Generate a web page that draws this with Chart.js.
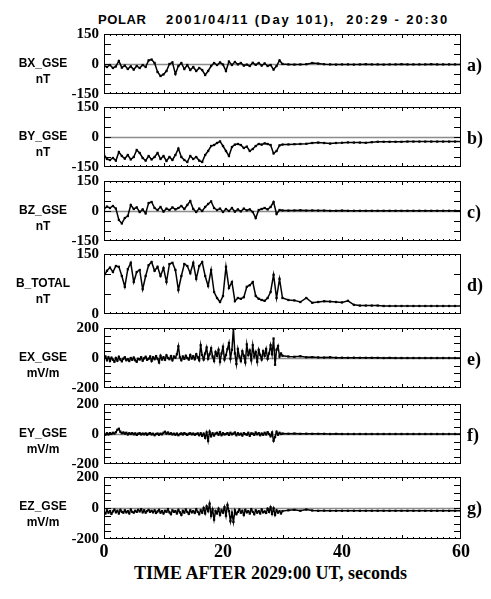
<!DOCTYPE html>
<html>
<head>
<meta charset="utf-8">
<script src="https://cdn.jsdelivr.net/npm/chart.js@4.4.1/dist/chart.umd.min.js"></script>
<style>
body { margin: 0; background: #fff; width: 491px; height: 599px; position: relative; overflow: hidden; }
canvas { position: absolute; left: 0; }
.hdr { position: absolute; top: 13px; font: bold 13px "Liberation Sans", sans-serif; line-height: 14px; white-space: pre; color: #000; }
.lbl { position: absolute; left: 0; width: 86px; text-align: center; font: bold 12px "Liberation Sans", sans-serif; line-height: 14px; color: #000; }
.tag { position: absolute; left: 467px; font: bold 18px "Liberation Serif", serif; line-height: 18px; color: #000; }
.xtitle { position: absolute; left: 0; width: 541px; top: 563px; text-align: center; font: bold 18px "Liberation Serif", serif; line-height: 20px; color: #000; }
</style>
</head>
<body>
<div class="hdr" style="left:98px;letter-spacing:0.6px">POLAR</div>
<div class="hdr" style="left:166px;letter-spacing:1.9px">2001/04/11 (Day 101),  20:29 - 20:30</div>
<div class="xtitle">TIME AFTER 2029:00 UT, seconds</div>
<script>
// sample times, seconds after 20:29:00
const timeB = [0,0.5,1,1.5,2,2.5,3,3.5,4,4.5,5,5.5,6,6.5,7,7.5,8,8.5,9,9.5,
  10,10.5,11,11.5,12,12.5,13,13.5,14,14.5,15,15.5,16,16.5,17,17.5,18,18.5,19,19.5,
  20,20.5,21,21.5,22,22.5,23,23.5,24,24.5,25,25.5,26,26.5,27,27.5,28,28.5,29,29.5,30,
  31,32,33,34,35,36,37,38,39,40,41,42,43,44,45,46,47,48,49,50,51,52,53,54,55,56,57,58,59,60];

const timeE = [0,0.25,0.5,0.75,1,1.25,1.5,1.75,2,2.25,2.5,2.75,3,3.25,3.5,3.75,4,4.25,4.5,4.75,
  5,5.25,5.5,5.75,6,6.25,6.5,6.75,7,7.25,7.5,7.75,8,8.25,8.5,8.75,9,9.25,9.5,9.75,
  10,10.25,10.5,10.75,11,11.25,11.5,11.75,12,12.25,12.5,12.75,13,13.25,13.5,13.75,14,14.25,14.5,14.75,
  15,15.25,15.5,15.75,16,16.25,16.5,16.75,17,17.25,17.5,17.75,18,18.25,18.5,18.75,19,19.25,19.5,19.75,
  20,20.25,20.5,20.75,21,21.25,21.5,21.75,22,22.25,22.5,22.75,23,23.25,23.5,23.75,24,24.25,24.5,24.75,
  25,25.25,25.5,25.75,26,26.25,26.5,26.75,27,27.25,27.5,27.75,28,28.25,28.5,28.75,29,29.25,29.5,29.75,30,
  31,32,33,34,35,36,37,38,39,40,41,42,43,44,45,46,47,48,49,50,51,52,53,54,55,56,57,58,59,60];

// magnetic field, nT
const bx = [-8,-15,-5,-20,-12,15,-18,-8,-25,-12,
  -28,-10,-20,-5,-15,18,22,5,-40,-60,
  -52,-35,0,8,-50,-10,5,-25,-5,-30,
  -15,-35,-20,-30,-55,-35,-10,5,-5,8,
  -3,-35,12,-5,10,-2,5,-8,-3,-10,
  6,-4,5,-8,3,-10,-5,-28,-10,18,0,
  -2,-3,-2,-1,5,2,-1,-2,-3,-2,-2,-3,-2,-1,-2,-2,-3,-2,-2,-1,-2,-2,-2,-2,-1,-2,-2,-2,-2,-2];

const by = [-88,-110,-115,-105,-118,-75,-95,-108,-90,-112,
  -100,-65,-80,-105,-118,-95,-112,-100,-80,-110,
  -95,-120,-100,-115,-90,-58,-100,-115,-125,-95,
  -110,-100,-118,-125,-90,-70,-45,-40,-30,-22,
  -45,-70,-95,-50,-38,-35,-40,-55,-48,-70,
  -60,-45,-35,-38,-32,-35,-40,-82,-70,-42,-38,
  -37,-36,-35,-34,-30,-28,-30,-33,-30,-29,-27,-28,-28,-29,-26,-24,-24,-24,-24,-24,-23,-23,-23,-23,-23,-23,-23,-23,-23,-23];

const bz = [10,22,15,25,12,-45,-62,-35,-25,30,
  10,18,-5,8,-12,40,45,15,5,20,
  -3,12,5,18,8,15,25,10,30,50,
  10,-5,12,0,20,35,48,15,5,12,
  -5,10,0,15,-3,8,-2,12,3,8,
  -5,-35,5,10,15,8,20,45,-15,5,3,
  2,3,4,2,3,2,2,1,1,2,1,1,1,1,1,1,1,1,1,1,1,1,1,1,1,1,1,1,1,1];

const bTotal = [95,108,116,105,120,118,95,68,112,128,
  80,105,110,62,95,122,130,108,118,95,
  115,80,125,128,110,60,95,125,120,102,
  128,88,120,130,95,70,110,55,40,30,
  45,118,65,80,32,40,38,42,68,72,
  80,45,38,35,33,40,55,98,40,88,40,
  35,34,30,40,28,30,32,31,30,29,33,23,21,21,21,21,20,20,20,20,20,20,20,20,20,20,20,20,20,20];

// electric field, mV/m
const ex = [-5,10,-15,5, -20,2,-12,-25, 0,-18,8,-10, -22,-5,5,-15, -8,-20,0,-12,
  3,-15,-25,-5, -10,5,-18,-2, 8,-12,-5,10, -20,5,-8,12, -5,-30,15,-10,
  5,-12,18,0, -8,12,-15,10, 2,25,78,5, -15,10,-5,15, 0,-10,20,-3,
  12,-8,25,5, -15,85,20,-10, 30,70,-5,25, 65,10,-20,40, 15,55,-25,30,
  75,-10,20,60, 100,-5,55,195, 30,-40,60,10, -20,45,15,-30, 90,20,50,-15,
  85,10,40,-25, 55,20,-10,45, 15,60,-5,30, 85,25,130,-45, 55,80,10,30, 15,
  10,8,12,5,6,4,3,5,2,2,1,2,1,1,1,1,0,1,0,0,0,0,0,0,0,0,0,0,0,0];

const ey = [2,-5,5,-3, 6,0,8,3, 12,28,35,15, 5,10,2,8, -3,5,0,6,
  -2,4,-6,2, 5,-3,3,-2, 4,-5,2,6, -3,2,-8,0, 3,-5,2,-2,
  8,15,2,10, 0,5,-3,2, -5,3,-8,0, 4,-3,6,0, -6,2,5,-2,
  3,-5,0,4, -8,5,-12,2, -25,10,-45,15, -15,5,-10,3, 8,-5,12,-8,
  5,-3,0,6, -6,8,-2,3, 10,-8,5,-4, 2,-10,6,0, -5,8,-12,4,
  2,-6,10,-2, 6,-8,3,-5, 8,-3,12,0, -15,10,-45,-20, 15,-5,8,0, 3,
  2,3,1,2,1,1,1,0,1,0,0,0,0,0,0,0,0,0,0,0,0,0,0,0,0,0,0,0,0,0];

const ez = [-25,-35,-15,-30, -20,-38,-22,-10, -28,-18,-35,-12, -25,-30,-15,-28, -20,-35,-10,-25,
  -30,-18,-25,-12, -22,-8,-28,-15, -30,-20,-12,-25, -18,-28,-15,-32, -22,-12,-30,-20,
  -35,-18,-25,-8, -28,-40,-15,-25, -20,-35,-12,-28, -45,-18,-30,-10, -25,-38,-15,-28,
  -20,-32,-8,-25, -40,-15,-30,0, -35,10,-20,28, -50,-10,-75,-20, -35,-5,-45,-15,
  -30,5,-50,20, -20,-85,-30,-90, -15,-40,-25,-10, -30,-18,-45,-12, -28,-20,-35,-8,
  -25,-40,-15,-30, -20,-35,-10,-28, -22,-32,-5,-25, 5,-38,-2,-45, -15,-30,-20,-35, -20,
  -15,-12,-18,-10,-16,-18,-17,-18,-18,-18,-18,-18,-18,-18,-18,-18,-18,-18,-18,-18,-18,-18,-18,-18,-18,-18,-18,-18,-18,-18];

const panels = [
  { tag: 'a)', name: 'BX_GSE', unit: 'nT', time: timeB, values: bx, min: -150, max: 150 },
  { tag: 'b)', name: 'BY_GSE', unit: 'nT', time: timeB, values: by, min: -150, max: 150 },
  { tag: 'c)', name: 'BZ_GSE', unit: 'nT', time: timeB, values: bz, min: -150, max: 150 },
  { tag: 'd)', name: 'B_TOTAL', unit: 'nT', time: timeB, values: bTotal, min: 0, max: 150 },
  { tag: 'e)', name: 'EX_GSE', unit: 'mV/m', time: timeE, values: ex, min: -200, max: 200 },
  { tag: 'f)', name: 'EY_GSE', unit: 'mV/m', time: timeE, values: ey, min: -200, max: 200 },
  { tag: 'g)', name: 'EZ_GSE', unit: 'mV/m', time: timeE, values: ez, min: -200, max: 200 }
];

const panelTops = [32, 105, 179, 252, 326, 402, 475];
const panelH = 64;
const serif = 'Liberation Serif';

// frame, inward ticks and the grey zero line
const framePlugin = {
  id: 'frame',
  beforeDatasetsDraw(chart) {
    const { ctx, chartArea: a, scales: { y } } = chart;
    const y0 = Math.round(y.getPixelForValue(0)) + 0.5;
    if (y0 > a.top + 2 && y0 < a.bottom - 2) {
      ctx.save();
      ctx.strokeStyle = '#8c8c8c';
      ctx.lineWidth = 1.5;
      ctx.beginPath();
      ctx.moveTo(a.left, y0);
      ctx.lineTo(a.right, y0);
      ctx.stroke();
      ctx.restore();
    }
  },
  afterDatasetsDraw(chart) {
    const { ctx, chartArea: a, scales: { x, y } } = chart;
    ctx.save();
    ctx.strokeStyle = '#000';
    ctx.lineWidth = 1;
    ctx.strokeRect(Math.round(a.left) + 0.5, Math.round(a.top) + 0.5,
      Math.round(a.right - a.left) - 1, Math.round(a.bottom - a.top) - 1);
    ctx.beginPath();
    for (let t = 1; t < 60; t++) {
      const px = Math.round(x.getPixelForValue(t)) + 0.5;
      const len = t % 10 === 0 ? 4 : 2;
      ctx.moveTo(px, a.top); ctx.lineTo(px, a.top + len);
      ctx.moveTo(px, a.bottom); ctx.lineTo(px, a.bottom - len);
    }
    for (let v = y.min + 50; v < y.max; v += 50) {
      const py = Math.round(y.getPixelForValue(v)) + 0.5;
      ctx.moveTo(a.left, py); ctx.lineTo(a.left + 7, py);
      ctx.moveTo(a.right, py); ctx.lineTo(a.right - 7, py);
    }
    ctx.stroke();
    ctx.restore();
  }
};

panels.forEach((p, i) => {
  const last = i === panels.length - 1;
  const top = panelTops[i];
  const canvas = document.createElement('canvas');
  canvas.width = 491;
  canvas.height = last ? 12 + panelH + 32 : 12 + panelH + 12;
  canvas.style.top = (top - 12) + 'px';
  document.body.appendChild(canvas);

  const nameDiv = document.createElement('div');
  nameDiv.className = 'lbl';
  nameDiv.style.top = (top + 24) + 'px';
  nameDiv.textContent = p.name;
  document.body.appendChild(nameDiv);

  const unitDiv = document.createElement('div');
  unitDiv.className = 'lbl';
  unitDiv.style.top = (top + 40) + 'px';
  unitDiv.textContent = p.unit;
  document.body.appendChild(unitDiv);

  const tagDiv = document.createElement('div');
  tagDiv.className = 'tag';
  tagDiv.style.top = (top + 24) + 'px';
  tagDiv.textContent = p.tag;
  document.body.appendChild(tagDiv);

  const xScale = {
    type: 'linear',
    min: 0,
    max: 60,
    display: last,
    ticks: { stepSize: 20, maxRotation: 0, autoSkip: false, color: '#000', padding: 3,
      font: { family: serif, size: 18, weight: 'bold' } },
    grid: { display: false, drawTicks: false },
    border: { display: false }
  };
  if (last) xScale.afterFit = s => { s.height = 32; };

  new Chart(canvas.getContext('2d'), {
    type: 'line',
    data: {
      datasets: [{
        data: p.values.map((v, k) => ({ x: p.time[k], y: v })),
        borderColor: '#000',
        borderWidth: 1.5,
        pointRadius: 1.6,
        pointStyle: 'rect',
        pointBackgroundColor: '#000',
        pointBorderWidth: 0,
        tension: 0
      }]
    },
    options: {
      responsive: false,
      animation: false,
      events: [],
      layout: { padding: { left: 0, right: 30, top: 12, bottom: last ? 0 : 12 } },
      scales: {
        x: xScale,
        y: {
          min: p.min,
          max: p.max,
          ticks: { stepSize: p.max, autoSkip: false, color: '#000', padding: 5,
            font: { family: serif, size: 15, weight: 'bold' } },
          grid: { display: false, drawTicks: false },
          border: { display: false },
          afterFit: s => { s.width = 104; }
        }
      },
      plugins: {
        legend: { display: false },
        tooltip: { enabled: false }
      }
    },
    plugins: [framePlugin]
  });
});
</script>
</body>
</html>
